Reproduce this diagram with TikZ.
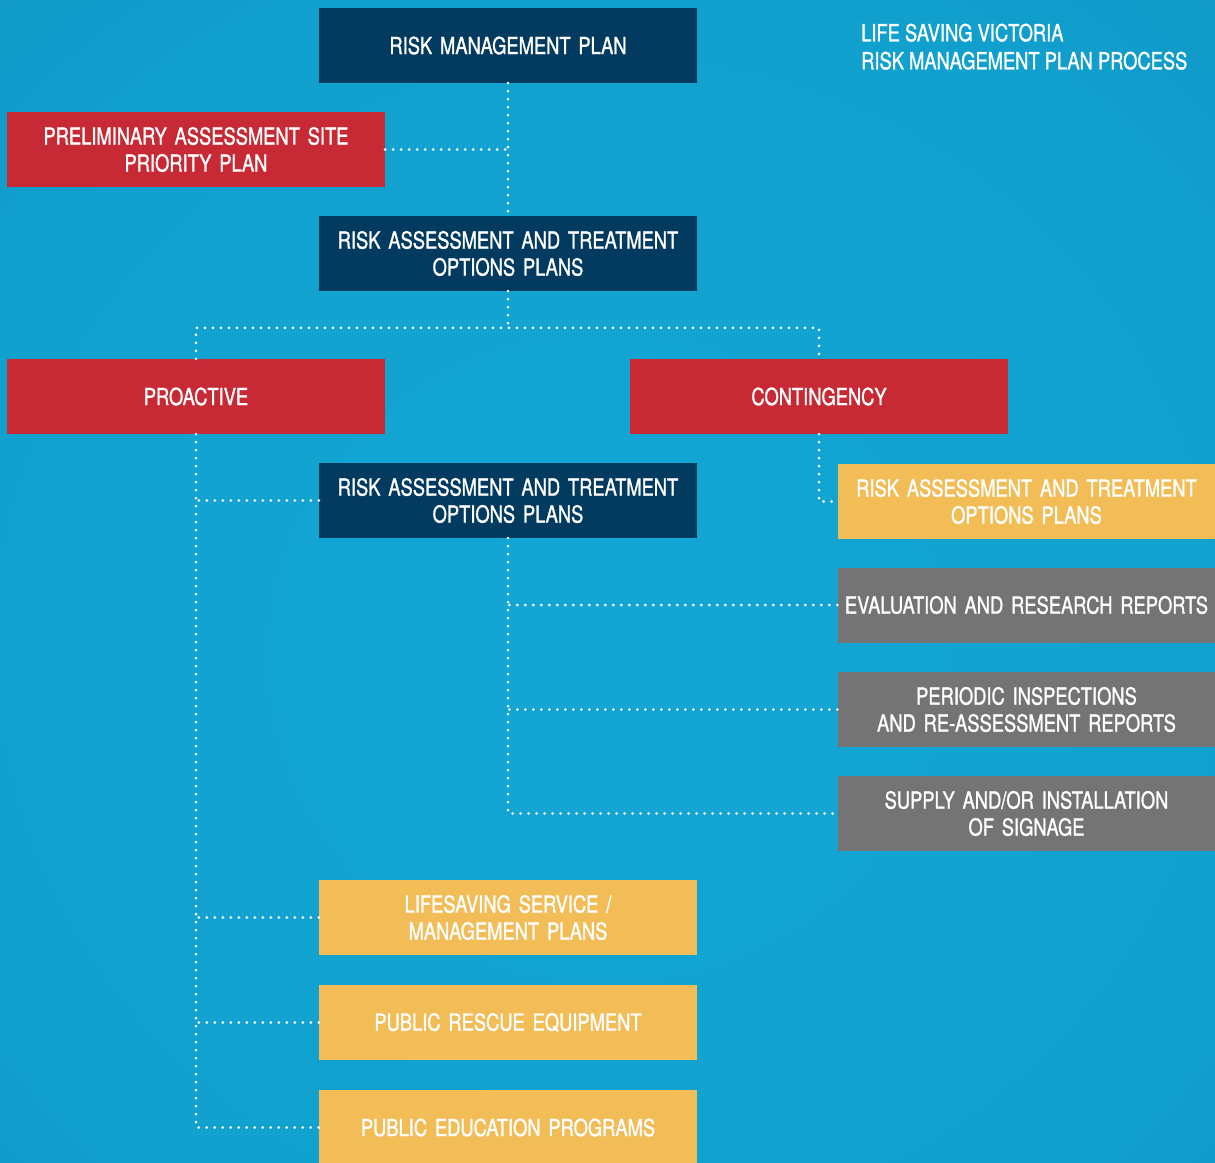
\documentclass[tikz,border=0pt]{standalone}
\usepackage{fontspec}
\setmainfont{TeX Gyre Heros}[FakeStretch=0.78,FakeBold=1.2]
\definecolor{navy}{HTML}{023A60}
\definecolor{lsred}{HTML}{C82A35}
\definecolor{lsyellow}{HTML}{F2BC57}
\definecolor{lsgrey}{HTML}{737473}
\definecolor{bgA}{HTML}{13A6D4}
\definecolor{bgB}{HTML}{11A1CF}
\definecolor{bgC}{HTML}{0E8EBD}
\definecolor{bgD}{HTML}{0A72A0}
\pgfdeclareradialshading{bgshade}{\pgfpoint{0bp}{-4bp}}{color(0bp)=(bgA); color(28bp)=(bgB); color(50bp)=(bgC); color(74bp)=(bgD)}
\begin{document}
\begin{tikzpicture}[x=1pt,y=-1pt,
  box/.style={minimum width=378pt,minimum height=75pt,inner sep=0pt,text width=370pt,align=center,text=white,font=\fontsize{23.5}{27}\selectfont},
  navybox/.style={box,fill=navy},
  redbox/.style={box,fill=lsred},
  yelbox/.style={box,fill=lsyellow},
  greybox/.style={box,fill=lsgrey},
  dots/.style={draw=white,line width=3pt,line cap=round,dash pattern=on 0pt off 8pt}]
\clip (0,0) rectangle (1215,1162);
\shade[shading=bgshade] (0,0) rectangle (1215,1162);

\node[navybox] (rmp) at (508,45.5) {RISK MANAGEMENT PLAN};
\node[redbox] (pre) at (196,149.5) {PRELIMINARY ASSESSMENT SITE\\PRIORITY PLAN};
\node[navybox] (rat1) at (508,253.5) {RISK ASSESSMENT AND TREATMENT\\OPTIONS PLANS};
\node[redbox] (pro) at (196,396.5) {PROACTIVE};
\node[redbox] (con) at (819,396.5) {CONTINGENCY};
\node[navybox] (rat2) at (508,500.5) {RISK ASSESSMENT AND TREATMENT\\OPTIONS PLANS};
\node[yelbox] (rat3) at (1026.5,501.5) {RISK ASSESSMENT AND TREATMENT\\OPTIONS PLANS};
\node[greybox] (eva) at (1026.5,605) {EVALUATION AND RESEARCH REPORTS};
\node[greybox] (per) at (1026.5,709.5) {PERIODIC INSPECTIONS\\AND RE-ASSESSMENT REPORTS};
\node[greybox] (sup) at (1026.5,813.5) {SUPPLY AND/OR INSTALLATION\\OF SIGNAGE};
\node[yelbox] (lif) at (508,917.5) {LIFESAVING SERVICE /\\MANAGEMENT PLANS};
\node[yelbox] (res) at (508,1022.5) {PUBLIC RESCUE EQUIPMENT};
\node[yelbox] (edu) at (508,1127.5) {PUBLIC EDUCATION PROGRAMS};

\node[anchor=north west,inner sep=0pt,align=left,text=white,font=\fontsize{23.5}{28}\selectfont] (title) at (861,23.5) {LIFE SAVING VICTORIA\\RISK MANAGEMENT PLAN PROCESS};

\draw[dots] (rmp.south) -- (rat1.north);
\draw[dots] (pre.east) -- (pre.east -| rmp.south);
\coordinate (j1) at (508,328);
\draw[dots] (rat1.south) -- (j1);
\draw[dots] (pro.north) -- ++(0,-31) -| (con.north);
\draw[dots] (pro.south) |- (edu.west);
\draw[dots] (rat2.west) -- (rat2.west -| pro.south);
\draw[dots] (lif.west) -- (lif.west -| pro.south);
\draw[dots] (res.west) -- (res.west -| pro.south);
\draw[dots] (con.south) |- (rat3.west);
\draw[dots] (rat2.south) |- (sup.west);
\draw[dots] (eva.west) -- (eva.west -| rat2.south);
\draw[dots] (per.west) -- (per.west -| rat2.south);
\end{tikzpicture}
\end{document}
